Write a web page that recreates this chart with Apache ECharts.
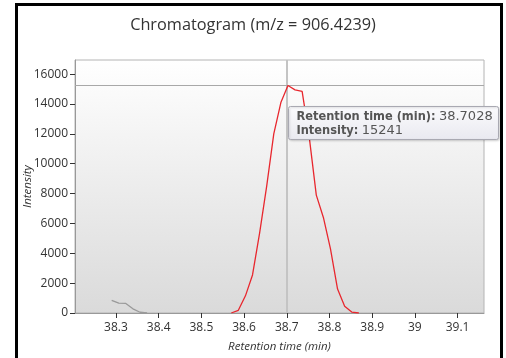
<!DOCTYPE html>
<html><head><meta charset="utf-8">
<script src="https://cdn.jsdelivr.net/npm/echarts@6/dist/echarts.min.js"></script>
<style>html,body{margin:0;padding:0;background:#fff}#c{width:506px;height:358px}</style>
</head><body><div id="c"></div>
<script>
const titleText = 'Chromatogram (m/z = 906.4239)';
const xName = 'Retention time (min)';
const yName = 'Intensity';
const grayTimes = [38.2899, 38.3065, 38.3231, 38.3397, 38.3563, 38.3729];
const grayValues = [850, 660, 640, 280, 50, 0];
const redTimes = [38.5700, 38.5866, 38.6032, 38.6198, 38.6364, 38.6530, 38.6696, 38.6862, 38.7028, 38.7194, 38.7360, 38.7526, 38.7692, 38.7858, 38.8024, 38.8190, 38.8356, 38.8522, 38.8688];
const redValues = [0, 180, 1150, 2550, 5350, 8500, 12000, 14100, 15241, 14950, 14850, 11800, 7900, 6400, 4300, 1600, 450, 60, 0];
const xTicks = [38.3, 38.4, 38.5, 38.6, 38.7, 38.8, 38.9, 39.0, 39.1];
const yTicks = [0, 2000, 4000, 6000, 8000, 10000, 12000, 14000, 16000];
const peakIndex = 8;
const tipTimeLabel = 'Retention time (min):';
const tipIntLabel = 'Intensity:';

const chart = echarts.init(document.getElementById('c'), null, {renderer: 'canvas'});
const FONT = 'Open Sans';
const peakT = redTimes[peakIndex], peakV = redValues[peakIndex];

chart.setOption({
  animation: false,
  backgroundColor: '#fff',
  title: {
    text: titleText, left: 'center', top: 12,
    textStyle: {fontFamily: FONT, fontSize: 16.3, fontWeight: 'normal', color: '#333'}
  },
  grid: {
    left: 75, right: 22, top: 60, bottom: 45, show: true,
    borderColor: '#b4b4b4', borderWidth: 1,
    backgroundColor: new echarts.graphic.LinearGradient(0, 0, 0, 1, [
      {offset: 0, color: '#ffffff'}, {offset: 1, color: '#dadada'}])
  },
  xAxis: {
    type: 'value', min: 38.204, max: 39.162,
    name: xName, nameLocation: 'middle', nameGap: 28, nameMoveOverlap: false,
    nameTextStyle: {fontFamily: FONT, fontSize: 11.5, fontStyle: 'italic', color: '#333'},
    axisLine: {show: true, lineStyle: {color: '#999'}},
    axisTick: {show: true, length: 5, lineStyle: {color: '#333'}, customValues: xTicks},
    axisLabel: {fontFamily: FONT, fontSize: 12, color: '#333', margin: 9, customValues: xTicks,
      formatter: v => String(+(+v).toFixed(1))},
    splitLine: {show: false}
  },
  yAxis: {
    type: 'value', min: 0, max: 16950,
    name: yName, nameLocation: 'middle', nameGap: 41, nameMoveOverlap: false,
    nameTextStyle: {fontFamily: FONT, fontSize: 11.5, fontStyle: 'italic', color: '#333'},
    axisLine: {show: true, lineStyle: {color: '#999'}},
    axisTick: {show: true, length: 5, lineStyle: {color: '#333'}, customValues: yTicks},
    axisLabel: {fontFamily: FONT, fontSize: 12, color: '#333', margin: 7, customValues: yTicks,
      formatter: v => String(Math.round(v))},
    splitLine: {show: false}
  },
  series: [
    {
      type: 'line', data: grayTimes.map((t, i) => [t, grayValues[i]]),
      symbol: 'none', lineStyle: {color: '#9a9a9a', width: 1.3}, z: 3
    },
    {
      type: 'line', data: redTimes.map((t, i) => [t, redValues[i]]),
      symbol: 'none', lineStyle: {color: '#e8272e', width: 1.3}, z: 4,
      markLine: {
        silent: true, symbol: 'none', label: {show: false}, z: 2,
        data: [
          {xAxis: peakT, lineStyle: {color: '#c4c4c4', width: 2, type: 'solid'}},
          {yAxis: peakV, lineStyle: {color: '#a8a8a8', width: 1, type: 'solid'}}
        ]
      }
    }
  ]
});

const [px, py] = chart.convertToPixel({gridIndex: 0}, [peakT, peakV]);
const tx = Math.round(px) + 0.5, ty = Math.round(py) + 20.5;
chart.setOption({
  graphic: [
    {
      id: 'frame', type: 'rect', silent: true, z: 100,
      shape: {x: 16.5, y: 4.5, width: 485, height: 360},
      style: {fill: null, stroke: '#000', lineWidth: 3}
    },
    {
      id: 'tipbox', type: 'rect', silent: true, z: 50,
      shape: {x: tx, y: ty, width: 210, height: 33, r: 2},
      style: {fill: new echarts.graphic.LinearGradient(0, 0, 0, 1, [
        {offset: 0, color: '#fbfbfd'}, {offset: 1, color: '#e9e9f0'}]),
        stroke: '#a9a9b2', lineWidth: 1,
        shadowBlur: 2, shadowColor: 'rgba(0,0,0,0.15)', shadowOffsetX: 1, shadowOffsetY: 1}
    },
    {
      id: 'tiptext', type: 'text', silent: true, z: 51,
      x: tx + 8, y: ty + 3,
      style: {
        text: '{b|' + tipTimeLabel + '} {v|' + peakT + '}\n{b|' + tipIntLabel + '} {v|' + peakV + '}',
        rich: {
          b: {fontFamily: 'DejaVu Sans Condensed', fontWeight: 'bold', fontSize: 12.7, fill: '#555', lineHeight: 14},
          v: {fontFamily: 'DejaVu Sans', fontSize: 13, fill: '#555', lineHeight: 14}
        }
      }
    }
  ]
});
</script></body></html>
